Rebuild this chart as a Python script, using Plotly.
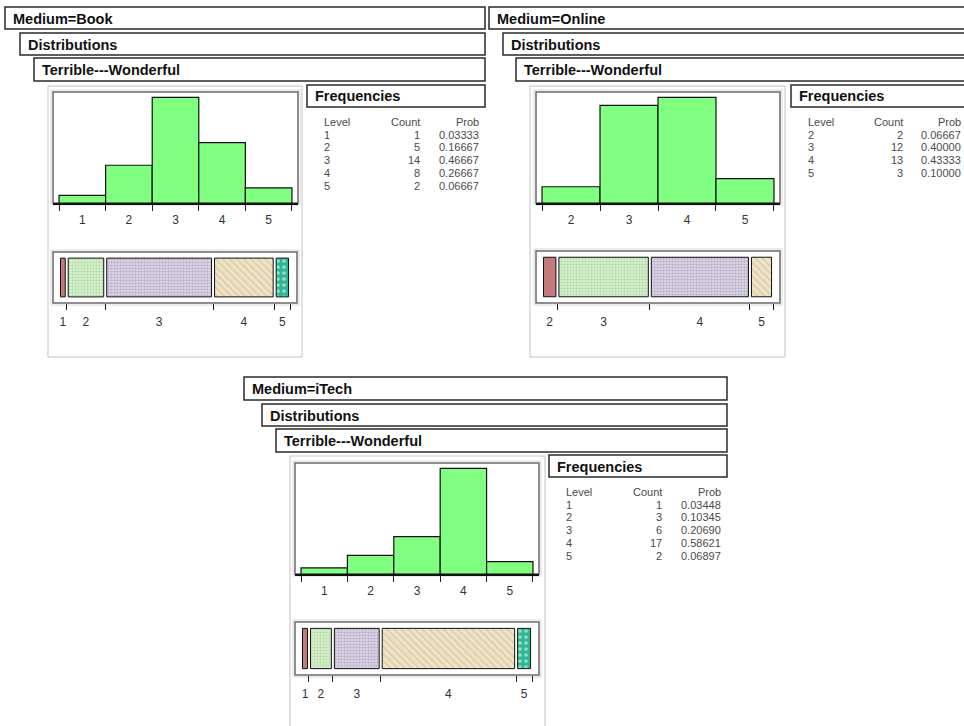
import plotly.graph_objects as go

W, H = 964, 726

# ---------------- data ----------------
book_levels = [1, 2, 3, 4, 5]
book_counts = [1, 5, 14, 8, 2]
book_probs = [0.03333, 0.16667, 0.46667, 0.26667, 0.06667]

online_levels = [2, 3, 4, 5]
online_counts = [2, 12, 13, 3]
online_probs = [0.06667, 0.40000, 0.43333, 0.10000]

itech_levels = [1, 2, 3, 4, 5]
itech_counts = [1, 3, 6, 17, 2]
itech_probs = [0.03448, 0.10345, 0.20690, 0.58621, 0.06897]

panel_titles = ["Medium=Book", "Medium=Online", "Medium=iTech"]
section_title = "Distributions"
variable_title = "Terrible---Wonderful"
table_title = "Frequencies"
table_headers = ["Level", "Count", "Prob"]

datasets = [
    (book_levels, book_counts, book_probs),
    (online_levels, online_counts, online_probs),
    (itech_levels, itech_counts, itech_probs),
]

# ---------------- layout geometry (pixels) ----------------
geom = [
    dict(h1=(5, 485, 7, 29), h2=(20, 485, 33, 55), h3=(34, 485, 58, 81),
         outer=(48, 302, 86, 357), hist=(53, 298, 92, 203), mos=(53, 297, 252, 303),
         freq=(307, 485, 85, 107), tab=(15, 115, 174)),
    dict(h1=(489, 970, 7, 29), h2=(503, 970, 33, 55), h3=(516, 970, 58, 81),
         outer=(530, 785, 86, 357), hist=(536, 780, 92, 203), mos=(536, 780, 251, 303),
         freq=(791, 970, 85, 107), tab=(15, 114, 172)),
    dict(h1=(244, 727, 377, 400), h2=(262, 727, 404, 426), h3=(276, 727, 429, 452),
         outer=(290, 545, 456, 732), hist=(295, 539, 463, 574), mos=(295, 539, 622, 675),
         freq=(549, 727, 455, 477), tab=(15, 115, 174)),
]

seg_styles = [
    dict(color="#c47a7a", pattern=dict(shape="")),
    dict(color="#d4f0cc", pattern=dict(shape=".", fgcolor="#8cc480", bgcolor="#d6f1ce", size=3, solidity=0.4)),
    dict(color="#d8d0e4", pattern=dict(shape=".", fgcolor="#8e86a0", bgcolor="#dad4e6", size=3, solidity=0.4)),
    dict(color="#eedfbd", pattern=dict(shape="\\", fgcolor="#c0a87c", bgcolor="#f0e4c8", size=5, solidity=0.25)),
    dict(color="#36bf9c", pattern=dict(shape=".", fgcolor="#ffffff", bgcolor="#2fb795", size=6, solidity=0.3)),
]

FONT = "Liberation Sans, Arial, sans-serif"


def fx(x):
    return x / W


def fy(y):
    return 1 - y / H


fig = go.Figure()
shapes = []
annotations = []
layout_axes = {}


def rect(x0, x1, y0, y1, color, width, fill=None):
    shapes.append(dict(type="rect", xref="paper", yref="paper",
                       x0=fx(x0), x1=fx(x1), y0=fy(y1), y1=fy(y0),
                       line=dict(color=color, width=width),
                       fillcolor=fill if fill else "rgba(0,0,0,0)", layer="below"))


def text(x, y, s, size, color="#000", anchor="left", bold=False):
    annotations.append(dict(xref="paper", yref="paper", x=fx(x), y=fy(y),
                            text=f"<b>{s}</b>" if bold else s, showarrow=False,
                            xanchor=anchor, yanchor="middle",
                            font=dict(family=FONT, size=size, color=color)))


for i, ((levels, counts, probs), g) in enumerate(zip(datasets, geom)):
    # header boxes
    for key, label in (("h1", panel_titles[i]), ("h2", section_title), ("h3", variable_title)):
        x0, x1, y0, y1 = g[key]
        rect(x0, x1, y0, y1, "#2a2a2a", 1.5, "white")
        text(x0 + 6, (y0 + y1) / 2 + 0.5, label, 14.5, "#111", bold=True)

    # outer frame
    x0, x1, y0, y1 = g["outer"]
    rect(x0, x1, y0, y1, "#c4c4c4", 1)

    # frequencies box + table
    x0, x1, y0, y1 = g["freq"]
    rect(x0, x1, y0, y1, "#2a2a2a", 1.5, "white")
    text(x0 + 6, (y0 + y1) / 2 + 0.5, table_title, 14.5, "#111", bold=True)
    ol, oc, op = g["tab"]
    lx, cx, px_ = x0 + ol, x0 + oc, x0 + op
    hy = y1 + 15
    text(lx, hy, table_headers[0], 11, "#4a4a4a")
    text(cx, hy, table_headers[1], 11, "#4a4a4a", anchor="right")
    text(px_, hy, table_headers[2], 11, "#4a4a4a", anchor="right")
    for r, (lev, c, p) in enumerate(zip(levels, counts, probs)):
        ry = hy + 12.7 * (r + 1)
        text(lx, ry, str(lev), 11, "#4a4a4a")
        text(cx, ry, str(c), 11, "#4a4a4a", anchor="right")
        text(px_, ry, f"{p:.5f}", 11, "#4a4a4a", anchor="right")

    # histogram
    hx = "x" if i == 0 else f"x{2 * i + 1}"
    hy_ = "y" if i == 0 else f"y{2 * i + 1}"
    mx = f"x{2 * i + 2}"
    my = f"y{2 * i + 2}"
    n = len(levels)
    pad = 0.026 * n
    fig.add_trace(go.Bar(x=levels, y=counts, width=1, xaxis=hx, yaxis=hy_,
                         marker=dict(color="#80ff80", line=dict(color="#111", width=1.2)),
                         opacity=1, showlegend=False, hoverinfo="x+y"))
    a0, a1, b0, b1 = g["hist"]
    rect(a0, a1, b0, b1, "#6a6a6a", 1.5)
    rect(a0 - 2, a1 + 2, b0 - 2, b1 + 2, "#d8d8d8", 1)
    edges = [levels[0] - 0.5] + [lv + 0.5 for lv in levels]
    layout_axes["xaxis" if i == 0 else f"xaxis{2 * i + 1}"] = dict(
        domain=[fx(a0), fx(a1)], anchor=hy_, range=[levels[0] - 0.5 - pad, levels[-1] + 0.5 + pad],
        tickvals=levels, ticktext=[str(v) for v in levels], ticks="",
        ticklabelstandoff=5,
        minor=dict(tickvals=edges, ticks="outside", ticklen=6, tickcolor="#222", tickwidth=1.2),
        showline=True, linecolor="#111", linewidth=1.5, showgrid=False, zeroline=False,
        tickfont=dict(family=FONT, size=12, color="#333"), fixedrange=True)
    layout_axes["yaxis" if i == 0 else f"yaxis{2 * i + 1}"] = dict(
        domain=[fy(b1), fy(b0)], anchor=hx, range=[0, max(counts) * 1.05],
        visible=False, fixedrange=True)

    # mosaic bar
    cum = [0.0]
    for p in probs:
        cum.append(cum[-1] + p)
    gap = 0.0065
    for j, (lev, p) in enumerate(zip(levels, probs)):
        st = seg_styles[j]
        fig.add_trace(go.Bar(x=[p - 2 * gap], base=[cum[j] + gap], y=[0], orientation="h",
                             width=0.76, xaxis=mx, yaxis=my, opacity=1,
                             marker=dict(color=st["color"], pattern=st["pattern"],
                                         line=dict(color="#111", width=1)),
                             showlegend=False, hoverinfo="x"))
    a0, a1, b0, b1 = g["mos"]
    rect(a0, a1, b0, b1, "#6a6a6a", 1.5)
    rect(a0 - 2, a1 + 2, b0 - 2, b1 + 2, "#d8d8d8", 1)
    centers = [cum[j] + probs[j] / 2 for j in range(n)]
    layout_axes[f"xaxis{2 * i + 2}"] = dict(
        domain=[fx(a0), fx(a1)], anchor=my, range=[-0.026, 1.03],
        tickvals=centers, ticktext=[str(v) for v in levels], ticks="",
        ticklabelstandoff=10,
        minor=dict(tickvals=cum[1:], ticks="outside", ticklen=6, tickcolor="#222", tickwidth=1.2),
        showline=False, showgrid=False, zeroline=False,
        tickfont=dict(family=FONT, size=12, color="#333"), fixedrange=True)
    layout_axes[f"yaxis{2 * i + 2}"] = dict(
        domain=[fy(b1), fy(b0)], anchor=mx, range=[-0.5, 0.5], visible=False, fixedrange=True)

fig.update_layout(
    width=W, height=H, margin=dict(l=0, r=0, t=0, b=0),
    paper_bgcolor="white", plot_bgcolor="rgba(0,0,0,0)",
    barmode="overlay", showlegend=False,
    shapes=shapes, annotations=annotations,
    **layout_axes,
)

fig.write_html("out.html", config={"displayModeBar": False},
               post_script="document.body.style.margin='0';document.body.style.overflow='hidden';")
